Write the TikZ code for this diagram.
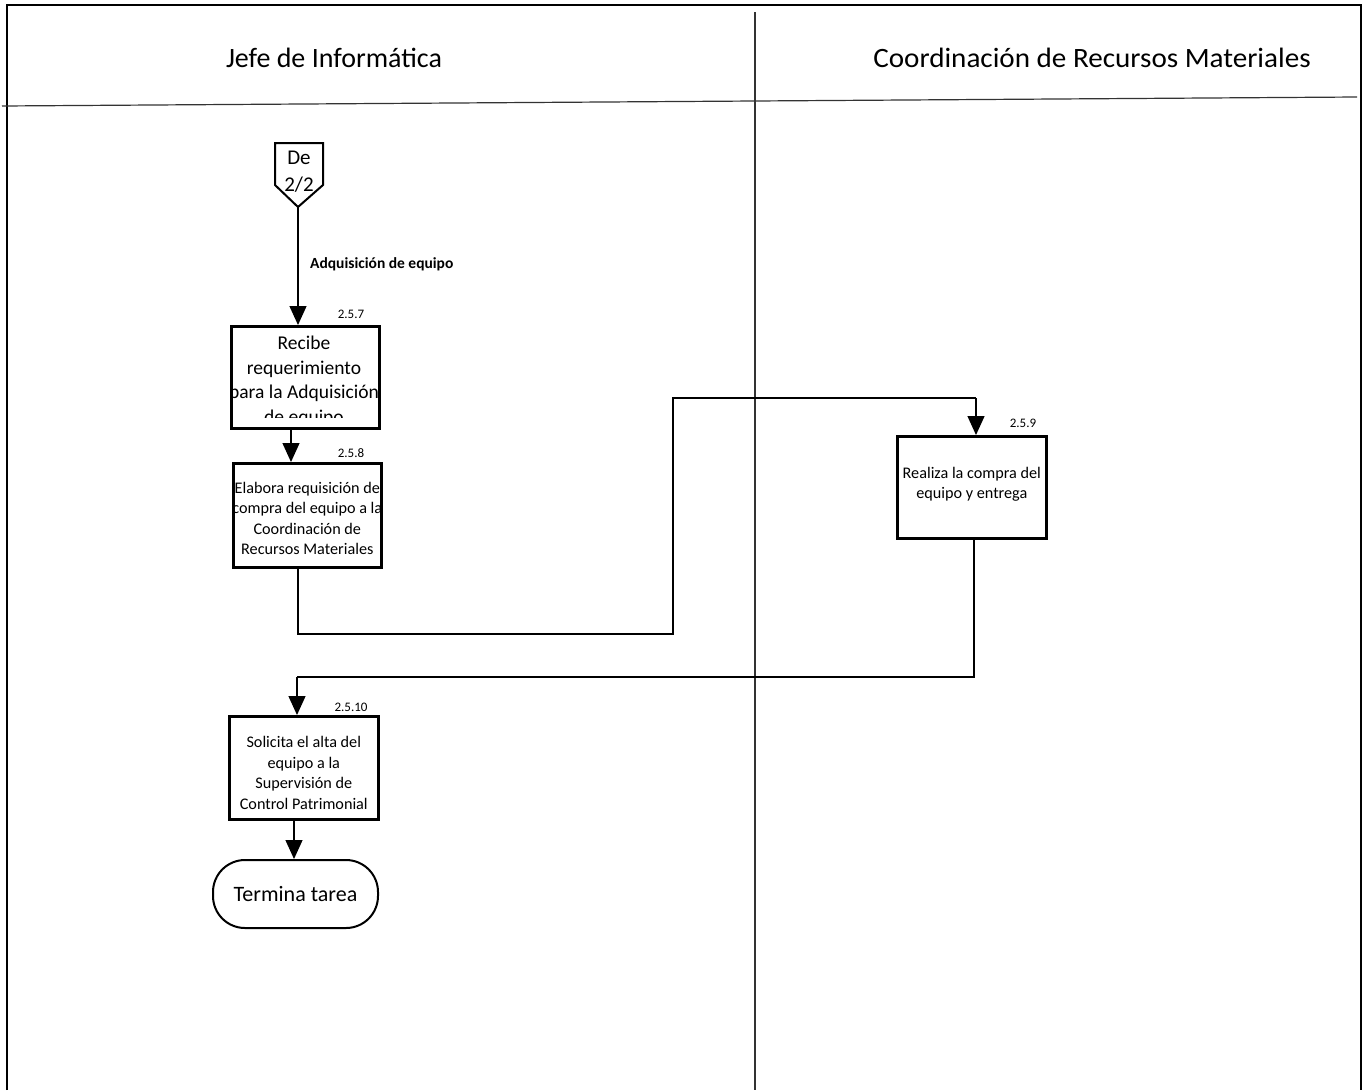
\documentclass[tikz,border=0pt]{standalone}
\usepackage{fontspec}
\setmainfont{Carlito}
\usetikzlibrary{arrows.meta,calc}
\begin{document}
\begin{tikzpicture}[x=1pt,y=-1pt,
  frame/.style={line width=2.2pt,black},
  lane/.style={line width=1.2pt,black!80},
  conn/.style={line width=1.3pt,black},
  arr/.style={conn,-{Triangle[width=17pt,length=19pt]}},
  procbox/.style={draw,line width=2.6pt,inner sep=0pt,anchor=north west},
  boxtext/.style={align=center,inner sep=0pt,font=\fontsize{16.2}{20.5}\selectfont},
  numlbl/.style={font=\fontsize{13}{14}\selectfont,inner sep=0pt},
  header/.style={font=\fontsize{28}{32}\selectfont,inner sep=0pt}]
\useasboundingbox (0,0) rectangle (1367,1090);
% frame
\draw[frame] (7,1090) -- (7,5) -- (1361,5) -- (1361,1090);
\draw[lane] (2,106) -- (1357,97);
\draw[lane] (755,12) -- (755,1090);
\node[header] (h1) at (334,58) {Jefe de Informática};
\node[header,xscale=1.04] (h2) at (1092,58) {Coordinación de Recursos Materiales};
% off-page connector
\draw[line width=2pt,line join=miter] (275,143) -- (323,143) -- (323,185) -- (298,207) -- (275,185) -- cycle;
\coordinate (deTip) at (298,207);
\node[align=center,inner sep=0pt,font=\fontsize{21}{27}\selectfont] (de) at (299,172) {De\\2/2};
\node[anchor=west,inner sep=0pt,font=\bfseries\fontsize{15.5}{18}\selectfont] (lbl) at (310,264) {Adquisición de equipo};
% box 1
\node[procbox,minimum width=148pt,minimum height=102pt] (b1) at (230,325) {};
\begin{scope}
\clip (231,326) rectangle (377,417);
\node[align=center,inner sep=0pt,font=\fontsize{19.5}{24.5}\selectfont,anchor=north] (t1) at (304,336) {Recibe\\requerimiento\\para la Adquisición\\de equipo};
\end{scope}
\node[numlbl] (n1) at (351,314) {2.5.7};
% box 2
\node[procbox,minimum width=148pt,minimum height=104pt] (b2) at (232,462) {};
\node[boxtext] (t2) at ($(b2.center)+(0,3)$) {Elabora requisición de\\compra del equipo a la\\Coordinación de\\Recursos Materiales};
\node[numlbl] (n2) at (351,453) {2.5.8};
% box 3
\node[procbox,minimum width=149pt,minimum height=102pt] (b3) at (896,435) {};
\node[boxtext] (t3) at ($(b3.center)+(0,-3)$) {Realiza la compra del\\equipo y entrega};
\node[numlbl] (n3) at (1023,423) {2.5.9};
% box 4
\node[procbox,minimum width=149pt,minimum height=103pt] (b4) at (228,715) {};
\node[boxtext] (t4) at ($(b4.center)+(0,5)$) {Solicita el alta del\\equipo a la\\Supervisión de\\Control Patrimonial};
\node[numlbl] (n4) at (351,707) {2.5.10};
% terminator
\node[draw,line width=2pt,rounded corners=32pt,minimum width=165pt,minimum height=68pt,anchor=north west,inner sep=0pt] (end) at (212,859) {};
\node[inner sep=0pt,font=\fontsize{22}{26}\selectfont] (te) at (end.center) {Termina tarea};
% connectors
\draw[arr] (deTip) -- (deTip |- b1.north);
\draw[arr] (291,0 |- b1.south) -- (291,0 |- b2.north);
\coordinate (c1) at (298,634);
\coordinate (c2) at (673,634);
\coordinate (c3) at (673,398);
\coordinate (c4) at (976,398);
\draw[conn] (c1 |- b2.south) -- (c1) -- (c2) -- (c3) -- (c4);
\draw[arr] (c4) -- (c4 |- b3.north);
\coordinate (d1) at (974,677);
\coordinate (d2) at (297,677);
\draw[conn] (d1 |- b3.south) -- (d1) -- (d2);
\draw[arr] (d2) -- (d2 |- b4.north);
\coordinate (e1) at (294,818);
\draw[arr] (e1 |- b4.south) -- (e1 |- end.north);
\end{tikzpicture}
\end{document}
